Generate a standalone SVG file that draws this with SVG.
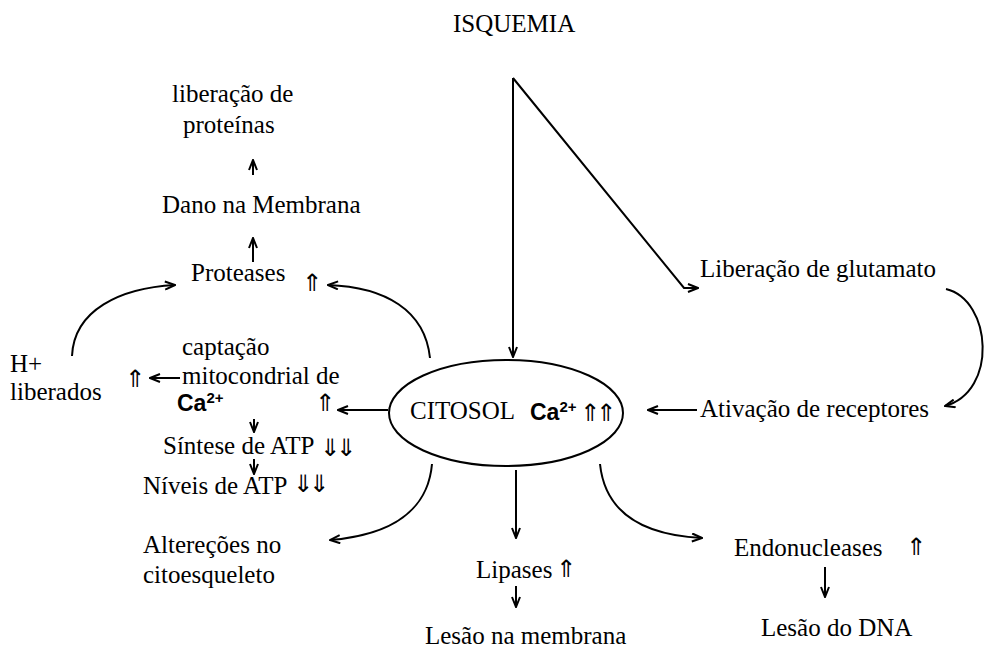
<svg xmlns="http://www.w3.org/2000/svg" width="990" height="655" viewBox="0 0 990 655">
<style>
text{font-family:"Liberation Serif","Times New Roman",serif;font-size:25px;fill:#000}
.ca{font-family:"Liberation Sans",Arial,sans-serif;font-weight:bold;font-size:23px}
.sup{font-size:15px}
.dbl{font-family:"DejaVu Sans",sans-serif;font-size:24px;letter-spacing:-4px}
.c{fill:none;stroke:#000;stroke-width:2}
</style>
<defs>
<marker id="ah" viewBox="0 0 12 10" refX="11" refY="5" markerWidth="12" markerHeight="10" markerUnits="userSpaceOnUse" orient="auto">
<path d="M1,1 L11,5 L1,9" fill="none" stroke="#000" stroke-width="2"/>
</marker>
</defs>
<rect width="990" height="655" fill="#fff"/>
<g id="isquemia"><text x="453" y="32">ISQUEMIA</text></g>
<g id="liberacao-proteinas"><text x="172" y="102">liberação de</text><text x="183" y="133">proteínas</text></g>
<g id="dano-membrana"><text x="162" y="213">Dano na Membrana</text></g>
<g id="proteases"><text x="191" y="281">Proteases</text><text class="dbl" x="302" y="291">⇑</text></g>
<g id="h-liberados"><text x="10" y="372">H+</text><text x="10" y="400">liberados</text><text class="dbl" x="125" y="387">⇑</text></g>
<g id="captacao"><text x="182" y="355">captação</text><text x="182" y="384">mitocondrial de</text><text class="ca" x="177" y="411">Ca<tspan class="sup" dy="-8">2+</tspan></text><text class="dbl" x="315" y="411">⇑</text></g>
<g id="sintese"><text x="163" y="454">Síntese de ATP</text><text class="dbl" x="320" y="456">⇓⇓</text></g>
<g id="niveis"><text x="143" y="494">Níveis de ATP</text><text class="dbl" x="293" y="492">⇓⇓</text></g>
<g id="alteracoes"><text x="143" y="553">Altereções no</text><text x="143" y="583">citoesqueleto</text></g>
<g id="citosol"><ellipse cx="506" cy="413" rx="117" ry="53" class="c"/><text x="410" y="419">CITOSOL</text><text class="ca" x="530" y="420">Ca<tspan class="sup" dy="-8">2+</tspan></text><text class="dbl" x="580" y="421">⇑⇑</text></g>
<g id="glutamato"><text x="700" y="277">Liberação de glutamato</text></g>
<g id="receptores"><text x="700" y="417">Ativação de receptores</text></g>
<g id="lipases"><text x="476" y="578">Lipases</text><text class="dbl" x="556" y="577">⇑</text></g>
<g id="lesao-membrana"><text x="425" y="644">Lesão na membrana</text></g>
<g id="endonucleases"><text x="734" y="556">Endonucleases</text><text class="dbl" x="906" y="555">⇑</text></g>
<g id="lesao-dna"><text x="761" y="636">Lesão do DNA</text></g>
<g id="connectors">
<path class="c" d="M513,78 L513,357" marker-end="url(#ah)"/>
<path class="c" d="M513,78 L684,288 L698,288" marker-end="url(#ah)"/>
<path class="c" d="M946,289 C992,300 998,392 945,406" marker-end="url(#ah)"/>
<path class="c" d="M697,410 L648,410" marker-end="url(#ah)"/>
<path class="c" d="M388,410 L338,410" marker-end="url(#ah)"/>
<path class="c" d="M180,378 L150,378" marker-end="url(#ah)"/>
<path class="c" d="M72,356 C74,310 120,288 175,285" marker-end="url(#ah)"/>
<path class="c" d="M430,358 C425,310 385,287 328,285" marker-end="url(#ah)"/>
<path class="c" d="M253,175 L253,160" marker-end="url(#ah)"/>
<path class="c" d="M253,262 L253,238" marker-end="url(#ah)"/>
<path class="c" d="M254,419 L254,432" marker-end="url(#ah)"/>
<path class="c" d="M254,459 L254,474" marker-end="url(#ah)"/>
<path class="c" d="M432,464 C428,510 392,535 330,540" marker-end="url(#ah)"/>
<path class="c" d="M600,464 C605,512 642,535 702,538" marker-end="url(#ah)"/>
<path class="c" d="M516,470 L516,538" marker-end="url(#ah)"/>
<path class="c" d="M516,586 L516,607" marker-end="url(#ah)"/>
<path class="c" d="M825,567 L825,597" marker-end="url(#ah)"/>
</g>
</svg>
